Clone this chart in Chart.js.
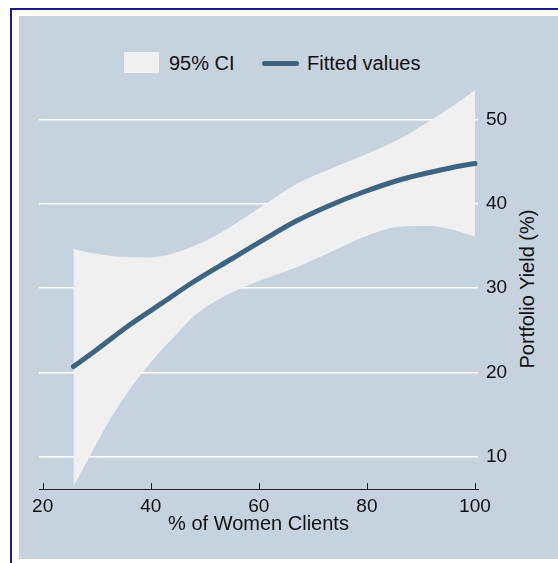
<!DOCTYPE html>
<html>
<head>
<meta charset="utf-8">
<script src="https://cdn.jsdelivr.net/npm/chart.js@4/dist/chart.umd.min.js"></script>
<style>
  html, body { margin:0; padding:0; background:#fff; }
  body { width:558px; height:563px; position:relative; overflow:hidden; font-family:"Liberation Sans", Arial, sans-serif; }
  #frame { position:absolute; left:10px; top:8px; width:548px; height:555px; border-top:2px solid #1c1c8c; border-left:2px solid #1c1c8c; }
  #bg { position:absolute; left:19px; top:16px; width:539px; height:543px; background:#c6d3df; }
  #wrap { position:absolute; left:0; top:0; width:558px; height:563px; }
  .leg { position:absolute; font-size:20px; color:#111; line-height:24px; }
  #ytitle { position:absolute; left:527px; top:289px; transform:translate(-50%,-50%) rotate(-90deg); white-space:nowrap; font-size:20px; color:#111; }
</style>
</head>
<body>
<div id="frame"></div>
<div id="bg"></div>
<div class="leg" style="left:124px;top:52px;width:35px;height:21px;background:#f0f0f0;"></div>
<div class="leg" style="left:169px;top:51px;">95% CI</div>
<div class="leg" style="left:262px;top:61px;width:37px;height:5px;border-radius:3px;background:#3d6480;"></div>
<div class="leg" style="left:307px;top:51px;">Fitted values</div>
<div id="ytitle">Portfolio Yield (%)</div>
<div id="wrap"><canvas id="c" width="558" height="563"></canvas></div>
<script>
// data
const ciX     = [25.7, 28, 30, 33, 36, 39, 42, 45, 48, 51, 55, 61, 67, 73, 79.5, 86, 92, 96, 100];
const ciUpper = [34.7, 34.3, 34.1, 33.8, 33.7, 33.65, 33.8, 34.3, 35.0, 35.9, 37.4, 39.9, 42.4, 44.1, 45.8, 47.7, 50.0, 51.7, 53.5];
const ciLower = [6.5, 9.2, 11.6, 15.0, 17.9, 20.4, 22.7, 24.7, 26.7, 28.1, 29.5, 31.1, 32.5, 34.2, 36.1, 37.3, 37.4, 36.9, 36.1];
const fitX    = [25.7, 30, 36, 42, 48, 55, 61, 67, 73, 79.5, 86, 92, 98, 100];
const fitY    = [20.7, 22.7, 25.6, 28.2, 30.8, 33.5, 35.8, 38.0, 39.8, 41.45, 42.85, 43.8, 44.6, 44.8];
const xTicks  = [20, 40, 60, 80, 100];
const yTicks  = [10, 20, 30, 40, 50];

const pts = (xs, ys) => xs.map((x, i) => ({x: x, y: ys[i]}));

// stata style ticks pointing up from the x axis
const upTicks = {
  id: "upTicks",
  afterDraw(chart) {
    const sx = chart.scales.x, ctx = chart.ctx, b = chart.chartArea.bottom;
    ctx.save();
    ctx.strokeStyle = "#222"; ctx.lineWidth = 1;
    xTicks.forEach(v => {
      const px = Math.round(sx.getPixelForValue(v)) + 0.5;
      ctx.beginPath(); ctx.moveTo(px, b); ctx.lineTo(px, b - 6); ctx.stroke();
    });
    ctx.restore();
  }
};

new Chart(document.getElementById("c").getContext("2d"), {
  type: "line",
  data: {
    datasets: [
      {label: "Fitted values", data: pts(fitX, fitY), borderColor: "#3d6480", borderWidth: 5, borderCapStyle: "round", borderJoinStyle: "round", pointRadius: 0, cubicInterpolationMode: "monotone", fill: false},
      {label: "95% CI", data: pts(ciX, ciUpper), borderWidth: 0, borderColor: "rgba(0,0,0,0)", backgroundColor: "#f0f0f0", pointRadius: 0, cubicInterpolationMode: "monotone", fill: "+1"},
      {label: "lower", data: pts(ciX, ciLower), borderWidth: 0, borderColor: "rgba(0,0,0,0)", pointRadius: 0, cubicInterpolationMode: "monotone", fill: false}
    ]
  },
  options: {
    responsive: false, animation: false,
    layout: {padding: {left: 39, top: 90, right: 0, bottom: 0}},
    plugins: {legend: {display: false}, tooltip: {enabled: false}},
    scales: {
      x: {
        type: "linear", min: 19.32, max: 100.56,
        afterBuildTicks: s => { s.ticks = xTicks.map(v => ({value: v})); },
        afterFit: s => { s.height = 74; },
        grid: {display: false, drawTicks: false},
        border: {display: true, color: "#222", width: 1},
        ticks: {color: "#111", padding: 6, font: {family: "Liberation Sans", size: 19}},
        title: {display: true, text: "% of Women Clients", color: "#111", padding: {top: 0, bottom: 27}, font: {family: "Liberation Sans", size: 20}}
      },
      y: {
        position: "right", min: 6.17, max: 53.53,
        afterBuildTicks: s => { s.ticks = yTicks.map(v => ({value: v})); },
        afterFit: s => { s.width = 80; },
        grid: {color: "#ffffff", lineWidth: 1.5, drawTicks: false},
        border: {display: false},
        ticks: {color: "#111", padding: 8, font: {family: "Liberation Sans", size: 19}}
      }
    }
  },
  plugins: [upTicks]
});
</script>
</body>
</html>
